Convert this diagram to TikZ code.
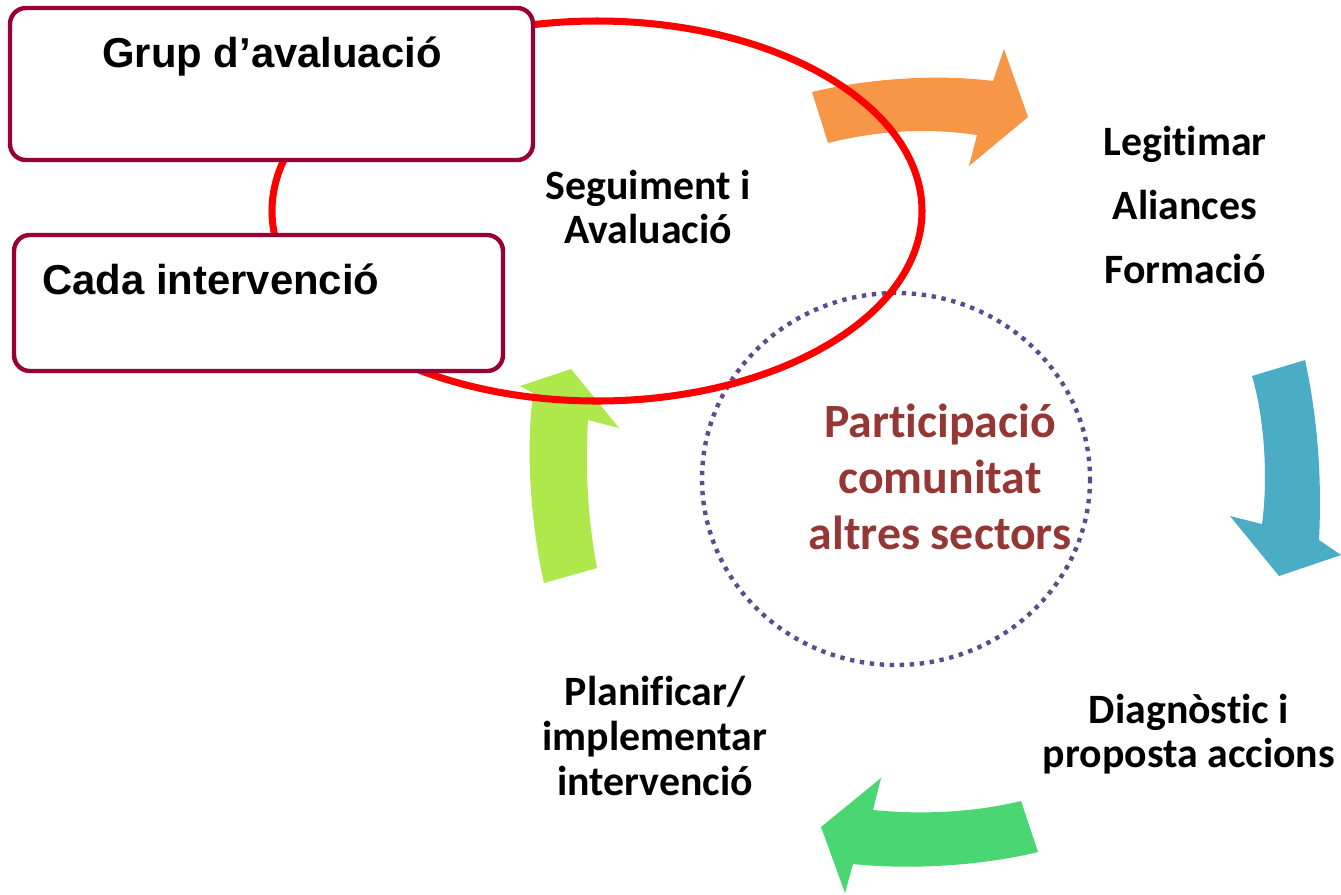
\documentclass[tikz,border=0pt]{standalone}
\usepackage{fontspec}
\newfontfamily\arialbold{Liberation Sans}[BoldFont=* Bold]
\newfontfamily\calibri{Carlito}[BoldFont=* Bold, Ligatures={NoCommon,NoContextual,NoRequired}, RawFeature={-liga;-calt;-clig;-dlig}]
\newcommand{\tikk}{t\kern0pt }
\definecolor{boxred}{HTML}{990033}
\definecolor{ringred}{HTML}{FF0000}
\definecolor{arrorange}{HTML}{F79646}
\definecolor{arrblue}{HTML}{4BACC6}
\definecolor{arrgreen}{HTML}{4AD773}
\definecolor{arrlime}{HTML}{AEE84B}
\definecolor{dotpurple}{HTML}{5F4A8B}
\definecolor{partred}{HTML}{953735}
\tikzset{
  boxnode/.style={draw=boxred, line width=2.5pt, rounded corners=9pt, fill=white, inner sep=0pt},
  arialtxt/.style={font=\arialbold\bfseries\fontsize{23.8pt}{27pt}\selectfont, inner sep=0pt},
  caltxt/.style={font=\calibri\bfseries\fontsize{23.8pt}{25.5pt}\selectfont, align=center, inner sep=0pt},
}
\begin{document}
\begin{tikzpicture}[x=0.02cm, y=-0.02cm]
\useasboundingbox[fill=white] (0,0) rectangle (1341,894);

% dotted circle
\draw[dotpurple, line width=2.5pt, dash pattern=on 2.5pt off 3.2pt] (896,479) ellipse [x radius=194, y radius=186];

% curved arrows
\fill[arrorange] (812,92) .. controls (870,78) and (940,74) .. (993,81) -- (1004,49) -- (1028,117) -- (969,166) -- (977,135) .. controls (930,128) and (880,130) .. (828,143) -- cycle;
\fill[arrblue] (1252,376) -- (1305,360) .. controls (1318,420) and (1322,480) .. (1319,540) -- (1341,555) -- (1279,576) -- (1230,516) -- (1262,524) .. controls (1268,480) and (1265,420) .. (1252,376) -- cycle;
\fill[arrgreen] (1021,801) -- (1038,852) .. controls (980,866) and (910,870) .. (853,864) -- (845,893) -- (821,827) -- (881,778) -- (873,810) .. controls (925,815) and (975,812) .. (1021,801) -- cycle;
\fill[arrlime] (544,583) -- (597,568) .. controls (588,520) and (585,470) .. (588,420) -- (619,428) -- (571,369) -- (520,386) -- (533,393) .. controls (526,450) and (530,520) .. (544,583) -- cycle;

% red ring
\draw[ringred, line width=4pt] (597,211) ellipse [x radius=325, y radius=190];

% boxes
\node[boxnode, minimum width=10.46cm, minimum height=3.04cm] (grupbox) at (271.5,84) {};
\node[boxnode, minimum width=9.78cm, minimum height=2.72cm] (cadabox) at (258.5,303) {};
\node[arialtxt, anchor=base] (grup) at (272,67) {Grup d’avaluació};
\node[arialtxt, anchor=base west] (cada) at (42,294) {Cada intervenció};

% labels
\node[caltxt] (seg) at (648,207) {Seguiment i\\Avaluació};
\node[caltxt, font=\calibri\bfseries\fontsize{23.8pt}{36.3pt}\selectfont] (leg) at (1185,205) {Legi\tikk imar\\Aliances\\Formació};
\node[caltxt, text=partred, font=\calibri\bfseries\fontsize{27.2pt}{31.8pt}\selectfont] (part) at (940,477) {Par\tikk icipació\\comunitat\\altres sectors};
\node[caltxt, font=\calibri\bfseries\fontsize{23.8pt}{25pt}\selectfont] (diag) at (1189,734) {Diagnòs\tikk ic i\\proposta accions};
\node[caltxt] (plan) at (655,736) {Planificar/\\implementar\\intervenció};
\end{tikzpicture}
\end{document}
